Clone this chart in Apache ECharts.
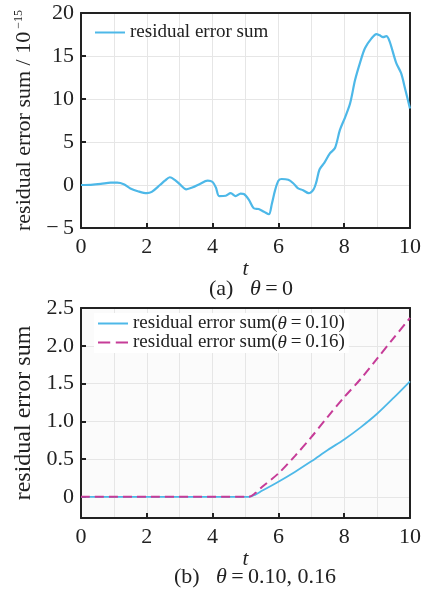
<!DOCTYPE html>
<html>
<head>
<meta charset="utf-8">
<script src="https://cdn.jsdelivr.net/npm/echarts@6/dist/echarts.min.js"></script>
<style>
  html, body { margin: 0; padding: 0; background: #fff; }
  #chart { width: 424px; height: 595px; }
</style>
</head>
<body>
<div id="chart"></div>
<script>
// (a) theta = 0, values in units of 1e-15
var tA = [0, 0.3, 0.6, 0.9, 1.1, 1.3, 1.5, 1.75, 2.0, 2.15, 2.4, 2.55, 2.7, 2.85, 3.0, 3.2, 3.4, 3.6, 3.85, 4.0,
    4.1, 4.2, 4.4, 4.55, 4.7, 4.85, 4.95, 5.1, 5.25, 5.4, 5.56, 5.71, 5.8, 5.9, 6.0, 6.1, 6.3, 6.45, 6.6, 6.75,
    6.92, 7.07, 7.15, 7.25, 7.4, 7.57, 7.72, 7.87, 8.03, 8.18, 8.33, 8.48, 8.63, 8.83, 8.98, 9.08, 9.18, 9.28,
    9.38, 9.58, 9.73, 9.86, 10];
var errA = [0, 0.02, 0.12, 0.27, 0.28, 0.1, -0.4, -0.75, -0.95, -0.8, 0, 0.5, 0.9, 0.6, 0.1, -0.5, -0.27, 0.1, 0.5, 0.35,
    -0.3, -1.3, -1.25, -0.95, -1.3, -1.0, -1.05, -1.7, -2.7, -2.8, -3.1, -3.4, -2.2, -0.6, 0.5, 0.7, 0.6, 0.2, -0.4, -0.6,
    -0.95, -0.5, 0.3, 1.8, 2.6, 3.7, 4.3, 6.4, 7.9, 9.5, 12.2, 14.2, 15.9, 17.05, 17.55, 17.4, 17.2, 17.3,
    16.7, 14.2, 13, 11.05, 8.9];

// (b) theta = 0.10 and 0.16
var tB = [0, 5.1, 5.3, 5.5, 6, 6.5, 7, 7.5, 8, 8.5, 9, 9.5, 10];
var err010 = [0, 0, 0.03, 0.08, 0.2, 0.33, 0.47, 0.62, 0.76, 0.92, 1.1, 1.31, 1.53];
var err016 = [0, 0, 0.05, 0.13, 0.31, 0.54, 0.79, 1.06, 1.32, 1.56, 1.83, 2.1, 2.37];

var yTicksB = [0, 0.5, 1.0, 1.5, 2.0, 2.5];

var serif = 'Liberation Serif';
var ink = '#222';
var grid = '#e6e6e6';
var blue = '#4db8e8';
var pink = '#c63c98';

function pairs(xs, ys) {
    return xs.map(function (x, i) { return [x, ys[i]]; });
}

var tickStyle = { show: true, inside: true, length: 5, lineStyle: { color: ink, width: 2 } };
var frameLine = { show: true, onZero: false, lineStyle: { color: ink, width: 2 } };

function xAxisFor(gridIndex) {
    return {
        type: 'value', gridIndex: gridIndex, min: 0, max: 10, interval: 2,
        name: 't', nameLocation: 'middle', nameGap: 23,
        nameTextStyle: { fontFamily: serif, fontStyle: 'italic', fontSize: 21, color: ink },
        axisLine: frameLine,
        axisTick: tickStyle,
        axisLabel: { fontFamily: serif, fontSize: 22, color: ink, margin: 8 },
        splitLine: { show: true, lineStyle: { color: grid, width: 1 } },
        minorTick: { show: false, splitNumber: 2 },
        minorSplitLine: { show: true, lineStyle: { color: grid, width: 1 } }
    };
}
// plain top/right edges of the plot frame
function frameAxis(gridIndex, pos, min, max) {
    return {
        type: 'value', gridIndex: gridIndex, position: pos, min: min, max: max,
        axisLine: frameLine, axisTick: { show: false }, axisLabel: { show: false },
        splitLine: { show: false }
    };
}

var chart = echarts.init(document.getElementById('chart'));
var option = {
    animation: false,
    backgroundColor: '#fff',
    textStyle: { fontFamily: serif },
    title: [{
        text: '(a)   {i|θ}\u2009=\u20090',
        left: 246, top: 273, textAlign: 'center',
        textStyle: { fontFamily: serif, fontSize: 22, fontWeight: 'normal', color: ink,
            rich: { i: { fontFamily: serif, fontStyle: 'italic', fontSize: 22, color: ink } } }
    }, {
        text: '(b)   {i|θ}\u2009=\u20090.10, 0.16',
        left: 250, top: 561, textAlign: 'center',
        textStyle: { fontFamily: serif, fontSize: 22, fontWeight: 'normal', color: ink,
            rich: { i: { fontFamily: serif, fontStyle: 'italic', fontSize: 22, color: ink } } }
    }],
    legend: [{
        left: 90, top: 18, itemWidth: 30, itemHeight: 12,
        data: [{ name: 'residual error sum', icon: 'path://M0,0H30V2H0Z' }],
        textStyle: { fontFamily: serif, fontSize: 19, color: ink }
    }, {
        left: 94, top: 313, orient: 'vertical', itemWidth: 30, itemHeight: 12, itemGap: 0,
        backgroundColor: '#fff', padding: [1, 4, 1, 4],
        data: [
            { name: 'residual error sum(θ = 0.10)', icon: 'path://M0,0H30V2H0Z' },
            { name: 'residual error sum(θ = 0.16)', icon: 'path://M0,0H11V2H0Z M16,0H27V2H16Z' }
        ],
        formatter: function (name) {
            return name.replace('(θ = ', '({i|θ}\u2009=\u2009');
        },
        textStyle: { fontFamily: serif, fontSize: 19, color: ink, lineHeight: 19,
            rich: { i: { fontFamily: serif, fontStyle: 'italic', fontSize: 19, color: ink, lineHeight: 19 } } }
    }],
    grid: [
        { left: 81, top: 13, width: 331, height: 215 },
        { left: 81, top: 308, width: 331, height: 210, show: true, borderWidth: 0, backgroundColor: '#fbfbfb' }
    ],
    xAxis: [xAxisFor(0), xAxisFor(1), frameAxis(0, 'top', 0, 10), frameAxis(1, 'top', 0, 10)],
    yAxis: [{
        type: 'value', gridIndex: 0, min: -5, max: 20, interval: 5,
        name: 'residual error sum / 10{sup|−15}', nameLocation: 'middle', nameGap: 43,
        nameTextStyle: { fontFamily: serif, fontSize: 22, color: ink,
            rich: { sup: { fontFamily: serif, fontSize: 12, color: ink, verticalAlign: 'top', padding: [0, 0, 10, 3] } } },
        axisLine: frameLine,
        axisTick: tickStyle,
        axisLabel: { fontFamily: serif, fontSize: 22, color: ink, margin: 7,
            formatter: function (v) { return v < 0 ? '\u2212\u2009' + Math.abs(v) : String(v); } },
        splitLine: { show: true, lineStyle: { color: grid, width: 1 } }
    }, {
        type: 'value', gridIndex: 1, min: -0.28, max: 2.5,
        name: 'residual error sum', nameLocation: 'middle', nameGap: 43,
        nameTextStyle: { fontFamily: serif, fontSize: 24, color: ink },
        axisLine: frameLine,
        axisTick: Object.assign({ customValues: yTicksB }, tickStyle),
        axisLabel: { fontFamily: serif, fontSize: 22, color: ink, margin: 7, customValues: yTicksB,
            formatter: function (v) { return v === 0 ? '0' : v.toFixed(1); } },
        splitLine: { show: true, lineStyle: { color: grid, width: 1 } }
    }, frameAxis(0, 'right', -5, 20), frameAxis(1, 'right', -0.28, 2.5)],
    series: [{
        name: 'residual error sum', type: 'line', xAxisIndex: 0, yAxisIndex: 0,
        data: pairs(tA, errA), smooth: 0.3, symbol: 'none',
        itemStyle: { color: blue }, lineStyle: { color: blue, width: 2.2 }
    }, {
        name: 'residual error sum(θ = 0.10)', type: 'line', xAxisIndex: 1, yAxisIndex: 1,
        data: pairs(tB, err010), smooth: 0.3, symbol: 'none',
        itemStyle: { color: blue }, lineStyle: { color: blue, width: 1.8 }
    }, {
        name: 'residual error sum(θ = 0.16)', type: 'line', xAxisIndex: 1, yAxisIndex: 1,
        data: pairs(tB, err016), smooth: 0.3, symbol: 'none',
        itemStyle: { color: pink }, lineStyle: { color: pink, width: 2, type: [9, 5] }
    }]
};
chart.setOption(option);
</script>
</body>
</html>
